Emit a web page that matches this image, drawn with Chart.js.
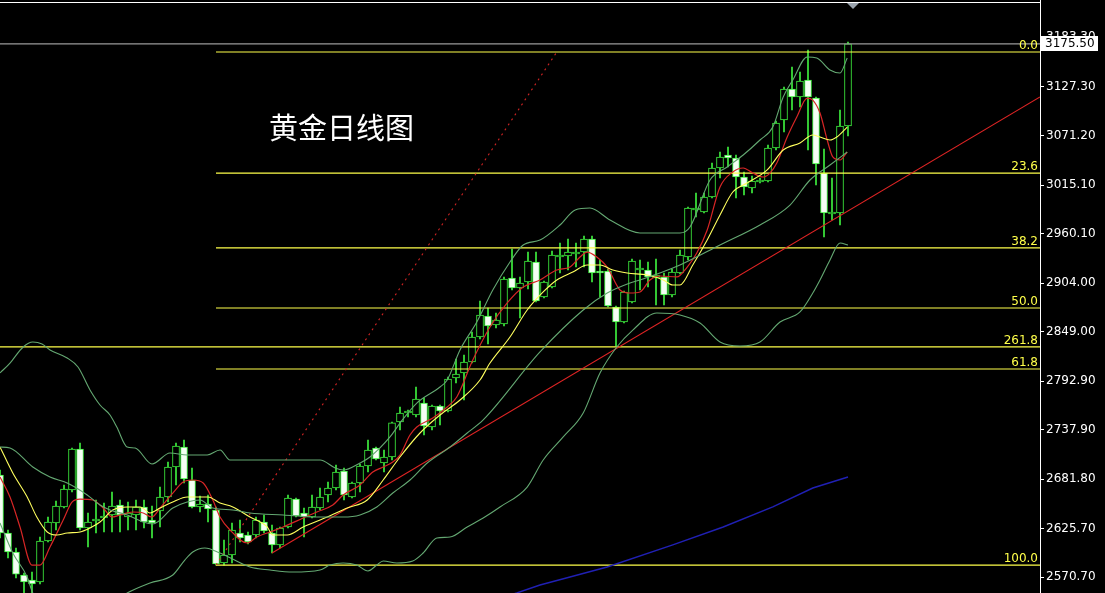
<!DOCTYPE html>
<html>
<head>
<meta charset="utf-8">
<script src="https://cdn.jsdelivr.net/npm/chart.js@4.4.1/dist/chart.umd.min.js"></script>
<style>
  html, body { margin: 0; padding: 0; background: #000; }
  #wrap { width: 1105px; height: 593px; }
</style>
</head>
<body>
<div id="wrap"><canvas id="mainChart" width="1105" height="593"></canvas></div>
<script>
// daily gold candles (one entry per bar, oldest first)
const opens = [2686.5, 2620.7, 2599.1, 2573.0, 2567.3, 2565.1, 2611.6, 2632.0, 2650.2, 2669.4,
  2716.0, 2626.3, 2634.3, 2637.7, 2641.1, 2652.4, 2638.8, 2641.1, 2650.2, 2635.4,
  2645.6, 2661.5, 2695.5, 2718.2, 2680.8, 2650.2, 2653.6, 2646.8, 2586.6, 2595.7,
  2620.7, 2618.4, 2618.4, 2633.1, 2620.7, 2607.1, 2627.5, 2659.2, 2643.4, 2638.8,
  2649.0, 2663.8, 2671.7, 2691.0, 2661.5, 2677.4, 2696.7, 2717.1, 2700.1, 2706.9,
  2746.6, 2756.8, 2754.5, 2768.1, 2740.9, 2764.7, 2759.1, 2796.5, 2802.2, 2814.6,
  2843.0, 2866.8, 2856.6, 2857.8, 2909.9, 2898.6, 2905.4, 2928.1, 2888.4, 2899.7,
  2933.8, 2934.9, 2937.2, 2939.4, 2954.2, 2917.9, 2917.9, 2877.0, 2860.0, 2882.7,
  2919.0, 2919.0, 2909.9, 2911.1, 2890.7, 2915.6, 2933.8, 2987.1, 2984.8, 3001.8,
  3034.7, 3049.5, 3046.1, 3024.5, 3012.0, 3018.8, 3020.0, 3057.4, 3089.2, 3124.3,
  3115.3, 3134.5, 3114.1, 3029.0, 2982.5, 2983.7, 3082.4];
const highs = [2692.1, 2624.1, 2603.6, 2575.3, 2576.4, 2616.1, 2638.8, 2657.0, 2675.1, 2717.1,
  2722.8, 2643.4, 2658.1, 2654.7, 2667.2, 2658.1, 2655.8, 2658.1, 2658.1, 2651.3,
  2672.8, 2701.2, 2722.8, 2726.2, 2694.4, 2662.6, 2663.8, 2650.2, 2612.7, 2632.0,
  2635.4, 2621.8, 2638.8, 2641.1, 2629.7, 2627.5, 2663.8, 2660.4, 2649.0, 2663.8,
  2671.7, 2678.5, 2697.8, 2694.4, 2678.5, 2698.9, 2726.2, 2718.2, 2714.8, 2746.6,
  2763.6, 2760.2, 2786.3, 2773.8, 2765.9, 2765.9, 2797.6, 2818.1, 2822.6, 2848.7,
  2883.8, 2875.9, 2870.2, 2911.1, 2942.8, 2911.1, 2939.4, 2939.4, 2906.5, 2940.6,
  2949.6, 2954.2, 2949.6, 2957.6, 2957.6, 2930.4, 2920.1, 2878.2, 2895.2, 2931.5,
  2930.4, 2928.1, 2931.5, 2915.6, 2920.1, 2941.7, 2990.5, 3006.4, 3006.4, 3040.4,
  3052.9, 3058.5, 3049.5, 3030.2, 3025.6, 3023.4, 3060.8, 3088.0, 3126.6, 3149.3,
  3143.6, 3168.6, 3115.3, 3056.3, 3023.4, 3100.5, 3177.7];
const lows = [2615.0, 2592.3, 2569.6, 2550.0, 2550.0, 2563.0, 2610.5, 2624.1, 2649.0, 2667.2,
  2624.1, 2604.8, 2620.7, 2621.8, 2621.8, 2621.8, 2624.1, 2624.1, 2626.3, 2615.0,
  2627.5, 2655.8, 2675.1, 2677.4, 2649.0, 2644.5, 2633.1, 2584.3, 2584.3, 2586.6,
  2610.5, 2608.2, 2615.0, 2620.7, 2598.0, 2603.6, 2626.3, 2638.8, 2616.1, 2637.7,
  2646.8, 2655.8, 2669.4, 2658.1, 2660.4, 2667.2, 2689.9, 2703.5, 2689.9, 2703.5,
  2737.5, 2752.3, 2752.3, 2731.8, 2737.5, 2743.2, 2757.9, 2790.8, 2771.5, 2813.5,
  2840.7, 2835.1, 2853.2, 2855.5, 2896.3, 2864.6, 2897.5, 2882.7, 2887.2, 2898.6,
  2915.6, 2919.0, 2922.4, 2922.4, 2905.4, 2888.4, 2877.0, 2832.8, 2858.9, 2881.6,
  2896.3, 2899.7, 2879.3, 2879.3, 2888.4, 2914.5, 2930.4, 2979.1, 2983.7, 3000.7,
  3023.4, 3035.9, 3000.7, 3004.1, 3006.4, 3017.7, 3018.8, 3055.1, 3075.6, 3100.5,
  3103.9, 3055.1, 3015.4, 2956.4, 2975.7, 2970.1, 3071.0];
const closes = [2620.7, 2599.1, 2574.1, 2565.1, 2562.8, 2611.6, 2633.1, 2651.3, 2670.6, 2716.0,
  2626.3, 2633.1, 2636.5, 2639.9, 2651.3, 2641.1, 2643.4, 2650.2, 2633.1, 2632.0,
  2661.5, 2695.5, 2719.4, 2681.9, 2650.2, 2653.6, 2647.9, 2585.5, 2595.7, 2624.1,
  2615.0, 2610.5, 2635.4, 2622.9, 2607.1, 2626.3, 2660.4, 2639.9, 2638.8, 2650.2,
  2661.5, 2671.7, 2689.9, 2663.8, 2677.4, 2696.7, 2714.8, 2704.6, 2706.9, 2745.5,
  2756.8, 2757.9, 2772.7, 2742.0, 2764.7, 2759.1, 2795.4, 2801.0, 2814.6, 2843.0,
  2868.0, 2855.5, 2862.3, 2908.8, 2898.6, 2904.3, 2929.2, 2883.8, 2905.4, 2936.0,
  2936.0, 2939.4, 2939.4, 2954.2, 2915.6, 2915.6, 2878.2, 2860.0, 2894.1, 2929.2,
  2920.1, 2911.1, 2913.3, 2890.7, 2916.7, 2936.0, 2989.3, 2989.3, 3001.8, 3034.7,
  3047.2, 3046.1, 3024.5, 3013.2, 3020.0, 3020.0, 3057.4, 3085.8, 3124.3, 3115.3,
  3133.4, 3115.3, 3039.3, 2983.7, 2983.7, 3082.4, 3175.5];

// indicator lines: [bar index, price]
const ma5 = [[0, 2684.2], [1.25, 2661.5], [2.5, 2627.5], [4, 2584.3], [5, 2584.3], [6.25, 2604.8],
  [7.9, 2635.4], [9, 2655.8], [10, 2659.2], [11.6, 2658.1], [12.9, 2649.0], [14, 2638.8], [15, 2641.1],
  [16.6, 2644.5], [17.9, 2643.4], [19, 2638.8], [20, 2649.0], [21.6, 2666.0], [22.9, 2678.5],
  [24.1, 2680.8], [25.4, 2677.4], [26.6, 2658.1], [27.5, 2638.8], [28.75, 2624.1], [30.9, 2609.3],
  [32.1, 2616.1], [33.75, 2621.8], [35.4, 2627.5], [37.9, 2637.7], [39.6, 2644.5], [41.6, 2652.4],
  [42.9, 2663.8], [45, 2675.1], [46.6, 2689.9], [47.9, 2695.5], [49.1, 2701.2], [50, 2709.1],
  [51.25, 2731.8], [52.1, 2740.9], [54.1, 2751.1], [55.9, 2763.6], [57.1, 2774.9], [59.1, 2816.9],
  [61.25, 2854.4], [63.4, 2881.6], [65.4, 2899.7], [67.5, 2907.7], [69.6, 2919.0], [71.25, 2922.4],
  [72.5, 2933.8], [73.4, 2939.4], [74.6, 2933.8], [75.9, 2922.4], [77.5, 2896.3], [78.75, 2892.9],
  [80, 2894.1], [81.25, 2907.7], [82.5, 2912.2], [84.6, 2911.1], [85.9, 2922.4], [87.1, 2938.3],
  [88.4, 2964.4], [90, 3013.2], [91.6, 3030.2], [92.9, 3034.7], [94.1, 3029.0], [95.4, 3024.5],
  [96.25, 3029.0], [97.1, 3040.4], [98.4, 3069.9], [99.6, 3092.6], [100.9, 3114.1], [101.6, 3111.8],
  [102.5, 3097.1], [103.4, 3066.5], [104.1, 3047.2], [105, 3043.8], [105.9, 3052.9]];
const ma10 = [[0, 2718.2], [1.6, 2688.7], [3.4, 2661.5], [4.6, 2638.8], [5.9, 2621.8], [7.1, 2618.4],
  [8.4, 2620.7], [10, 2621.8], [11.25, 2626.3], [12.5, 2633.1], [14.1, 2646.8], [15.9, 2650.2],
  [17.5, 2650.2], [18.75, 2643.4], [20, 2649.0], [21.6, 2655.8], [23.4, 2661.5], [26, 2661.5],
  [27.5, 2654.7], [29.1, 2650.2], [31.25, 2638.8], [33.4, 2627.5], [34.1, 2618.4], [35.9, 2618.4],
  [37.9, 2627.5], [40.9, 2638.8], [43.4, 2649.0], [45.9, 2658.1], [47.9, 2680.8], [50, 2706.9],
  [52.5, 2734.1], [55, 2754.5], [57.5, 2771.5], [60, 2794.2], [61.25, 2813.5], [63.75, 2843.0],
  [65.9, 2873.6], [67.9, 2894.1], [69.6, 2907.7], [71.6, 2916.7], [73.4, 2924.7], [75, 2924.7],
  [76.6, 2919.0], [78.4, 2915.6], [80.9, 2913.3], [82.9, 2907.7], [84.1, 2902.0], [85, 2902.0],
  [86.6, 2924.7], [88.4, 2953.0], [90, 2981.4], [91.6, 3007.5], [93.4, 3017.7], [95.9, 3032.5],
  [97.9, 3055.1], [100, 3063.1], [101.6, 3072.2], [102.5, 3069.9], [103.75, 3066.5], [104.6, 3069.9],
  [105.9, 3081.2]];
const bandUpper = [[0, 2802.2], [1.25, 2813.5], [2.9, 2831.7], [4.1, 2837.3], [5.25, 2835.1], [6.25, 2828.3],
  [8.4, 2819.2], [9.75, 2809.0], [11.25, 2782.9], [12.5, 2765.9], [13.75, 2754.5], [14.6, 2740.9],
  [15.9, 2718.2], [16.9, 2717.1], [19, 2698.9], [21.25, 2711.4], [23.4, 2709.1], [25.9, 2709.1],
  [27.5, 2714.8], [28.75, 2703.5], [33.75, 2703.5], [40, 2703.5], [41.9, 2694.4], [42.9, 2692.1],
  [45, 2700.1], [46.25, 2706.9], [48.75, 2729.6], [50, 2745.4], [52.1, 2768.1], [55, 2786.3],
  [55.9, 2794.2], [57.5, 2828.3], [59.6, 2860.0], [61.6, 2896.3], [63.75, 2928.1], [65.4, 2947.4],
  [67.5, 2953.0], [70, 2970.1], [71.9, 2987.1], [73.75, 2989.3], [76.25, 2975.7], [80, 2961.0],
  [85, 2961.0], [86.25, 2967.8], [88.75, 3021.1], [90.9, 3035.9], [92.9, 3049.5], [95, 3066.5],
  [96.6, 3081.2], [97.9, 3115.3], [99.1, 3134.5], [100.9, 3160.6], [102.1, 3159.5], [103.75, 3145.9],
  [105, 3142.5], [105.9, 3159.5]];
const bandMiddle = [[0, 2718.2], [1.25, 2717.1], [4.1, 2695.5], [6.25, 2684.2], [8.4, 2677.4], [10.9, 2663.8],
  [12.5, 2652.4], [13.75, 2646.8], [15.9, 2641.1], [17.9, 2633.1], [19.1, 2630.9], [21.6, 2649.0],
  [23.4, 2655.8], [25, 2658.1], [26.6, 2649.0], [29.1, 2646.8], [31.25, 2643.4], [35.4, 2641.1],
  [39.6, 2638.8], [42.9, 2638.8], [45, 2641.1], [47.1, 2650.2], [49.1, 2666.0], [51.25, 2680.8],
  [53.4, 2700.1], [56.25, 2718.2], [58.4, 2734.1], [60.4, 2748.9], [67.5, 2826.0], [72.9, 2873.6],
  [75.9, 2892.9], [78.75, 2904.3], [80, 2907.7], [85, 2924.7], [90, 2947.4], [95, 2970.1],
  [98.75, 2992.7], [101.25, 3021.1], [103.75, 3038.1], [105.9, 3052.9]];
const bandLower = [[0, 2632.0], [1.6, 2598.0], [3.4, 2570.8], [4.1, 2552.6], [7, 2535.0], [10, 2525.0],
  [13, 2535.0], [15.9, 2552.6], [18.75, 2563.9], [21.6, 2573.0], [23.1, 2590.0], [24.1, 2599.1],
  [25.6, 2603.6], [27.5, 2598.0], [31.25, 2582.1], [33.75, 2578.7], [36.6, 2576.4], [40, 2578.7],
  [41.25, 2584.3], [42.9, 2586.6], [44.6, 2584.3], [46, 2577.6], [47.1, 2584.3], [47.9, 2588.9],
  [49.6, 2586.6], [51.6, 2588.9], [52.9, 2598.0], [54.6, 2615.0], [56.25, 2616.1], [58.4, 2627.5],
  [60.4, 2637.7], [62.5, 2650.2], [65.9, 2672.8], [67.9, 2703.5], [70.4, 2729.6], [72.9, 2756.8],
  [75, 2802.2], [77.1, 2831.7], [79.1, 2850.9], [82.1, 2870.2], [85, 2868.0], [87.5, 2858.9],
  [90, 2837.3], [92.5, 2832.8], [95, 2837.3], [97.5, 2860.0], [100, 2871.4], [101.6, 2892.9],
  [102.5, 2907.7], [103.75, 2930.4], [105, 2949.6], [106, 2947.4]];
const maLong = [[62, 2546.0], [64.6, 2552.6], [67.5, 2561.7], [71.25, 2570.7], [75.9, 2582.1],
  [84.1, 2607.1], [90.4, 2627.5], [96.6, 2650.2], [101.6, 2671.7], [106, 2684.2]];

// hand-drawn objects: [bar index, price]
const trendLine = [[34, 2598.0], [130, 3115.3]];
const fibDiagonal = [[27, 2584.3], [69.6, 3166.3]];
const fibStart = 27;
const fibLabels = ['0.0', '23.6', '38.2', '50.0', '61.8', '100.0'];
const fibLevels = [3166.3, 3029.0, 2944.0, 2875.9, 2806.7, 2584.3];
const extLabel = '261.8';
const extLevel = 2831.7;
const lastPrice = 3175.5;
const priceTicks = [3183.3, 3127.3, 3071.2, 3015.1, 2960.1, 2904.0, 2849.0, 2792.9, 2737.9, 2681.8, 2625.7, 2570.7];
const chartTitle = '黄金日线图';

const X_MAX = 130;
const GREEN = '#3ef03e';
const FIB = '#ffff4a';
const BAND = '#64a872';

const pts = arr => arr.map(p => ({ x: p[0], y: p[1] }));
const idx = closes.map((_, i) => i);

function lineSet(data, color, width, extra) {
  return Object.assign({
    type: 'line', data: data, borderColor: color, borderWidth: width || 1,
    pointRadius: 0, fill: false, tension: 0, order: 1
  }, extra || {});
}

const datasets = [
  {
    type: 'bar', data: idx.map(i => ({ x: i, y: [lows[i], highs[i]] })),
    backgroundColor: GREEN, borderWidth: 0, barThickness: 1, grouped: false, order: 11
  },
  {
    type: 'bar', data: idx.map(i => ({ x: i, y: [opens[i], closes[i]] })),
    backgroundColor: idx.map(i => closes[i] < opens[i] ? '#f4fff4' : '#000000'),
    borderColor: GREEN, borderWidth: 1, borderSkipped: false, barThickness: 7,
    minBarLength: 2, grouped: false, order: 10
  },
  lineSet(pts(bandUpper), BAND, 1.1, { cubicInterpolationMode: 'monotone' }),
  lineSet(pts(bandMiddle), BAND, 1.1, { cubicInterpolationMode: 'monotone' }),
  lineSet(pts(bandLower), BAND, 1.1, { cubicInterpolationMode: 'monotone' }),
  lineSet(pts(maLong), '#2020b4', 1.4),
  lineSet(pts(ma10), '#ffff5e', 1.1, { cubicInterpolationMode: 'monotone' }),
  lineSet(pts(ma5), '#d82626', 1.2, { cubicInterpolationMode: 'monotone' }),
  lineSet(pts(trendLine), '#e02424', 1.1),
  lineSet(pts(fibDiagonal), '#d42424', 1.1, { borderDash: [2, 4] }),
  lineSet([{ x: 0, y: lastPrice }, { x: X_MAX, y: lastPrice }], '#9a9a9a', 1.2),
  lineSet([{ x: 0, y: extLevel }, { x: X_MAX, y: extLevel }], FIB, 1.2)
];
fibLevels.forEach(v => datasets.push(lineSet([{ x: fibStart, y: v }, { x: X_MAX, y: v }], FIB, 1.2)));

const overlay = {
  id: 'overlay',
  beforeDraw(chart) {
    const c = chart.ctx;
    c.save();
    c.fillStyle = '#000';
    c.fillRect(0, 0, chart.width, chart.height);
    c.restore();
  },
  afterDraw(chart) {
    const c = chart.ctx, ys = chart.scales.y, a = chart.chartArea;
    c.save();
    // top frame
    c.strokeStyle = '#ffffff';
    c.lineWidth = 1;
    c.beginPath();
    c.moveTo(a.left, 2.5);
    c.lineTo(a.right, 2.5);
    c.stroke();
    // fibonacci labels
    c.font = '12px "DejaVu Sans"';
    c.fillStyle = FIB;
    c.textAlign = 'right';
    c.textBaseline = 'alphabetic';
    fibLevels.forEach((v, k) => c.fillText(fibLabels[k], a.right - 2, ys.getPixelForValue(v) - 3));
    c.fillText(extLabel, a.right - 2, ys.getPixelForValue(extLevel) - 3);
    // last price box
    const py = Math.round(ys.getPixelForValue(lastPrice));
    c.fillStyle = '#ffffff';
    c.fillRect(a.right + 1, py - 8, 57, 15);
    c.fillStyle = '#000000';
    c.font = '12px "DejaVu Sans"';
    c.textAlign = 'left';
    c.textBaseline = 'middle';
    c.fillText(lastPrice.toFixed(2), a.right + 5, py);
    // chart shift marker
    c.fillStyle = '#9aa3ad';
    c.beginPath();
    c.moveTo(847, 3);
    c.lineTo(859, 3);
    c.lineTo(853, 9);
    c.closePath();
    c.fill();
    // title
    c.font = '29px "Noto Sans CJK SC"';
    c.fillStyle = '#ffffff';
    c.textAlign = 'left';
    c.textBaseline = 'middle';
    c.fillText(chartTitle, 269, 128);
    c.restore();
  }
};

new Chart(document.getElementById('mainChart'), {
  type: 'bar',
  data: { datasets: datasets },
  options: {
    responsive: false,
    animation: false,
    devicePixelRatio: 1,
    layout: { padding: 0 },
    plugins: { legend: { display: false }, tooltip: { enabled: false } },
    scales: {
      x: { type: 'linear', min: 0, max: X_MAX, offset: false, display: false },
      y: {
        position: 'right',
        min: 2552.6,
        max: 3225.3,
        beginAtZero: false,
        afterBuildTicks(scale) { scale.ticks = priceTicks.map(v => ({ value: v })); },
        afterFit(scale) { scale.width = 65; scale.paddingTop = 0; scale.paddingBottom = 0; },
        border: { display: true, color: '#ffffff', width: 1 },
        grid: { drawOnChartArea: false, drawTicks: true, tickLength: 4, color: '#ffffff' },
        ticks: {
          autoSkip: false, padding: 2, color: '#ffffff',
          font: { family: 'DejaVu Sans', size: 12 },
          callback: v => Number(v).toFixed(2)
        }
      }
    }
  },
  plugins: [overlay]
});
</script>
</body>
</html>
